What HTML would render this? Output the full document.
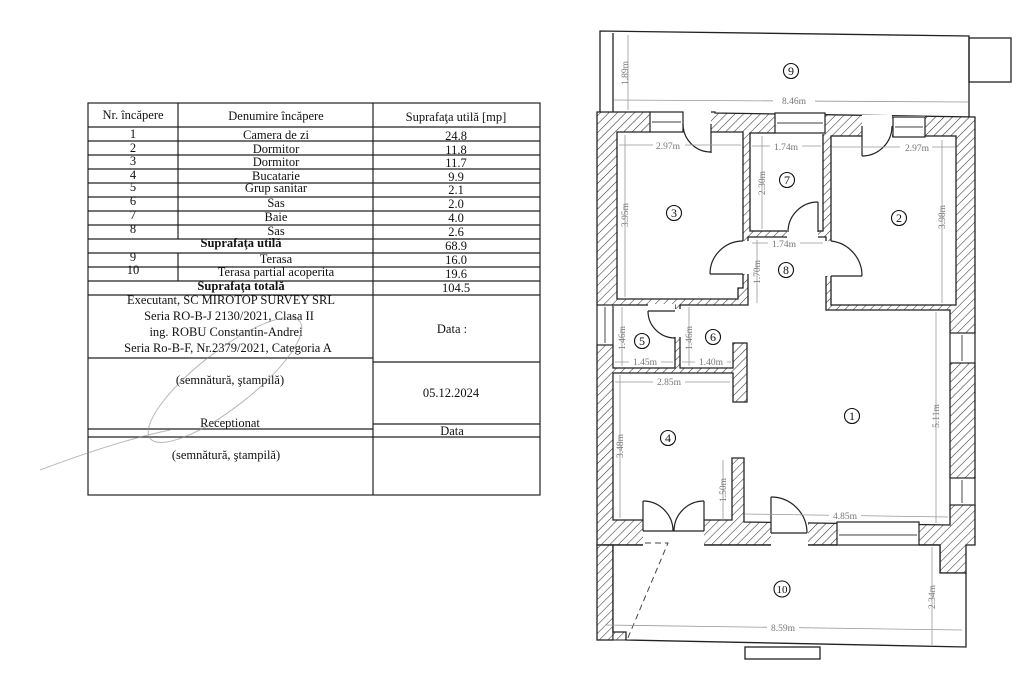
<!DOCTYPE html>
<html><head><meta charset="utf-8"><style>
html,body{margin:0;padding:0;background:#fff;}
svg{display:block;}
text{font-family:"Liberation Serif",serif;}
.t{font-size:12.5px;fill:#111;text-anchor:middle;}
.b{font-weight:bold;}
.d{font-size:9.5px;fill:#777;text-anchor:middle;}
.n{font-size:12px;fill:#111;text-anchor:middle;}
</style></head><body>
<svg width="1024" height="683" viewBox="0 0 1024 683" xmlns="http://www.w3.org/2000/svg">
<defs>
<pattern id="h" width="6" height="6" patternUnits="userSpaceOnUse" patternTransform="rotate(45)">
<rect width="6" height="6" fill="#fff"/><line x1="0" y1="0" x2="0" y2="6" stroke="#333" stroke-width="1.1"/>
</pattern>
</defs>
<rect width="1024" height="683" fill="#fff"/>

<!-- TABLE -->
<g stroke="#222" stroke-width="1.2" fill="none">
<rect x="88" y="103" width="452" height="392"/>
<line x1="178" y1="103" x2="178" y2="239"/>
<line x1="178" y1="253" x2="178" y2="281"/>
<line x1="373" y1="103" x2="373" y2="495"/>
<line x1="88" y1="127" x2="540" y2="127"/>
<line x1="88" y1="141" x2="540" y2="141"/>
<line x1="88" y1="155" x2="540" y2="155"/>
<line x1="88" y1="169" x2="540" y2="169"/>
<line x1="88" y1="183" x2="540" y2="183"/>
<line x1="88" y1="197" x2="540" y2="197"/>
<line x1="88" y1="211" x2="540" y2="211"/>
<line x1="88" y1="225" x2="540" y2="225"/>
<line x1="88" y1="239" x2="540" y2="239"/>
<line x1="88" y1="253" x2="540" y2="253"/>
<line x1="88" y1="267" x2="540" y2="267"/>
<line x1="88" y1="281" x2="540" y2="281"/>
<line x1="88" y1="295" x2="540" y2="295"/>
<line x1="88" y1="358" x2="373" y2="358"/>
<line x1="373" y1="362" x2="540" y2="362"/>
<line x1="88" y1="429" x2="373" y2="429"/>
<line x1="88" y1="437" x2="540" y2="437"/>
<line x1="373" y1="424" x2="540" y2="424"/>
</g>
<text class="t" x="133" y="119">Nr. încăpere</text>
<text class="t" x="276" y="120">Denumire încăpere</text>
<text class="t" x="456" y="121">Suprafaţa utilă [mp]</text>
<g class="t">
<text class="t" x="133" y="138">1</text><text class="t" x="276" y="139">Camera de zi</text><text class="t" x="456" y="140">24.8</text>
<text class="t" x="133" y="152">2</text><text class="t" x="276" y="153">Dormitor</text><text class="t" x="456" y="154">11.8</text>
<text class="t" x="133" y="165">3</text><text class="t" x="276" y="166">Dormitor</text><text class="t" x="456" y="167">11.7</text>
<text class="t" x="133" y="179">4</text><text class="t" x="276" y="180">Bucatarie</text><text class="t" x="456" y="181">9.9</text>
<text class="t" x="133" y="191">5</text><text class="t" x="276" y="192">Grup sanitar</text><text class="t" x="456" y="194">2.1</text>
<text class="t" x="133" y="205">6</text><text class="t" x="276" y="207">Sas</text><text class="t" x="456" y="208">2.0</text>
<text class="t" x="133" y="219">7</text><text class="t" x="276" y="221">Baie</text><text class="t" x="456" y="222">4.0</text>
<text class="t" x="133" y="233">8</text><text class="t" x="276" y="235">Sas</text><text class="t" x="456" y="236">2.6</text>
<text class="t b" x="241" y="247">Suprafaţa utilă</text><text class="t" x="456" y="250">68.9</text>
<text class="t" x="133" y="261">9</text><text class="t" x="276" y="263">Terasa</text><text class="t" x="456" y="264">16.0</text>
<text class="t" x="133" y="274">10</text><text class="t" x="276" y="276">Terasa partial acoperita</text><text class="t" x="456" y="278">19.6</text>
<text class="t b" x="241" y="290">Suprafaţa totală</text><text class="t" x="456" y="292">104.5</text>
</g>
<text class="t" x="231" y="304">Executant, SC MIROTOP SURVEY SRL</text>
<text class="t" x="229" y="320">Seria RO-B-J 2130/2021, Clasa II</text>
<text class="t" x="226" y="336">ing. ROBU Constantin-Andrei</text>
<text class="t" x="228" y="352">Seria Ro-B-F, Nr.2379/2021, Categoria A</text>
<text class="t" x="452" y="333">Data :</text>
<text class="t" x="230" y="384">(semnătură, ştampilă)</text>
<text class="t" x="451" y="397">05.12.2024</text>
<text class="t" x="230" y="427">Receptionat</text>
<text class="t" x="452" y="435">Data</text>
<text class="t" x="226" y="459">(semnătură, ştampilă)</text>
<!-- stamp -->
<g fill="none" stroke="#888" stroke-width="1" opacity="0.6">
<ellipse cx="225" cy="380" rx="95" ry="28" transform="rotate(-38 225 380)"/>
<path d="M40 470 Q120 440 170 430"/>
</g>

<!-- TERRACE 9 -->
<g fill="none" stroke="#222" stroke-width="1.3">
<path d="M600 112 L600 31 L969 36 L969 118"/>
<line x1="613" y1="33" x2="613" y2="112"/>
<rect x="969" y="38" width="42" height="44"/>
</g>

<!-- HOUSE WALLS -->
<path d="M597 112 L715 112 L715 113 L975 117 L975 545 L966 545 L966 573 L940 573 L940 545 L597 545 Z" fill="url(#h)" stroke="#222" stroke-width="1.3"/>
<!-- left wall continuing along terrace 10 -->
<rect x="597" y="545" width="16" height="95" fill="url(#h)" stroke="#222" stroke-width="1.3"/>
<rect x="613" y="632" width="13" height="8" fill="url(#h)" stroke="#222" stroke-width="1"/>

<g fill="#fff" stroke="#222" stroke-width="1.3">
<!-- room 3 -->
<path d="M617 132 L743 132 L743 288 L738 288 L738 299 L617 299 Z"/>
<!-- room 7 -->
<rect x="750" y="133" width="73" height="98"/>
<!-- room 2 -->
<rect x="831" y="136" width="125" height="169"/>
<!-- room 5 -->
<rect x="613" y="305" width="62" height="63"/>
<!-- rooms 1,4,6,8 -->
<path d="M613 373 L733 373 L733 402 L747 402 L747 343 L733 343 L733 368 L680 368 L680 305 L748 305 L748 237 L826 237 L826 310 L950 310 L950 525 L744 522 L744 458 L732 458 L732 520 L613 520 Z"/>
<!-- terrace 10 -->
<path d="M613 545 L940 545 L940 573 L966 573 L966 647 L626 640 L626 632 L613 632 Z"/>
<rect x="745" y="647" width="75" height="12"/>
</g>
<!-- fix internal border of terrace near house bottom -->
<line x1="603" y1="545" x2="940" y2="545" stroke="#222" stroke-width="1.3"/>

<!-- openings (doors/windows) white cut -->
<g fill="#fff" stroke="none">
<rect x="683" y="111" width="28" height="22"/>
<rect x="862" y="115" width="30" height="22"/>
<rect x="787" y="230" width="31" height="8"/>
<rect x="742" y="241" width="8" height="33"/>
<rect x="825" y="241" width="7" height="35"/>
<rect x="648" y="304" width="27" height="6"/>
<rect x="674" y="309" width="7" height="28"/>
<rect x="643" y="519" width="61" height="27"/>
<rect x="771" y="521" width="37" height="25"/>
<rect x="650" y="111" width="33" height="22"/>
<rect x="775" y="112" width="50" height="22"/>
<rect x="893" y="116" width="32" height="21"/>
<rect x="596" y="305" width="18" height="40"/>
<rect x="949" y="333" width="27" height="30"/>
<rect x="949" y="478" width="27" height="27"/>
<rect x="837" y="521" width="82" height="25"/>
</g>
<g fill="none" stroke="#222" stroke-width="1.2">
<!-- windows -->
<rect x="650" y="112" width="33" height="20"/><line x1="652" y1="122" x2="681" y2="122" stroke="#666"/>
<rect x="775" y="113" width="50" height="20"/><line x1="777" y1="123" x2="823" y2="123" stroke="#666"/>
<rect x="893" y="117" width="32" height="20"/><line x1="895" y1="127" x2="923" y2="127" stroke="#666"/>
<rect x="597" y="305" width="16" height="40"/><line x1="605" y1="307" x2="605" y2="343" stroke="#666"/>
<rect x="950" y="333" width="25" height="30"/><line x1="962" y1="335" x2="962" y2="361" stroke="#666"/>
<rect x="950" y="478" width="25" height="27"/><line x1="962" y1="480" x2="962" y2="503" stroke="#666"/>
<rect x="837" y="522" width="82" height="23"/><line x1="839" y1="535" x2="917" y2="535" stroke="#666"/>
<!-- doors -->
<line x1="711" y1="124" x2="711" y2="153"/><path d="M683 124 A28 28 0 0 0 711 152"/>
<line x1="862" y1="126" x2="862" y2="156"/><path d="M892 126 A30 30 0 0 1 862 156"/>
<line x1="818" y1="202" x2="818" y2="232"/><path d="M788 232 A30 30 0 0 1 818 202"/>
<line x1="710" y1="274" x2="743" y2="274"/><path d="M743 241 A33 33 0 0 0 710 274"/>
<line x1="831" y1="276" x2="862" y2="276"/><path d="M831 241 A35 35 0 0 1 862 276"/>
<line x1="648" y1="311" x2="675" y2="311"/><path d="M648 311 A27 27 0 0 0 675 338"/>
<line x1="643" y1="501" x2="643" y2="531"/><path d="M643 501 A30 30 0 0 1 673 531"/>
<line x1="704" y1="501" x2="704" y2="531"/><path d="M704 501 A30 30 0 0 0 674 531"/>
<line x1="643" y1="531" x2="704" y2="531"/>
<line x1="771" y1="497" x2="771" y2="533"/><path d="M771 497 A36 36 0 0 1 807 533"/>
<line x1="771" y1="533" x2="807" y2="533"/>
</g>
<path d="M645 543 L668 543 L627 640" fill="none" stroke="#444" stroke-width="1" stroke-dasharray="6,4"/>

<!-- dimension lines -->
<g stroke="#999" stroke-width="0.8" fill="none">
<line x1="628" y1="35" x2="628" y2="110"/>
<line x1="614" y1="100" x2="968" y2="102"/>
<line x1="619" y1="145" x2="741" y2="145"/>
<line x1="832" y1="147" x2="955" y2="147"/>
<line x1="752" y1="146" x2="821" y2="146"/>
<line x1="752" y1="243" x2="823" y2="243"/>
<line x1="762" y1="136" x2="762" y2="229"/>
<line x1="625" y1="135" x2="625" y2="297"/>
<line x1="942" y1="140" x2="942" y2="303"/>
<line x1="757" y1="240" x2="757" y2="303"/>
<line x1="622" y1="307" x2="622" y2="366"/>
<line x1="689" y1="307" x2="689" y2="366"/>
<line x1="615" y1="362" x2="673" y2="362"/>
<line x1="682" y1="362" x2="731" y2="362"/>
<line x1="615" y1="382" x2="730" y2="382"/>
<line x1="620" y1="375" x2="620" y2="518"/>
<line x1="936" y1="312" x2="936" y2="523"/>
<line x1="723" y1="460" x2="723" y2="520"/>
<line x1="745" y1="514" x2="948" y2="517"/>
<line x1="932" y1="547" x2="932" y2="645"/>
<line x1="605" y1="625" x2="962" y2="630"/>
</g>
<g class="d">
<text class="d" transform="translate(628 73) rotate(-90)">1.89m</text>
<rect x="773" y="95" width="42" height="11" fill="#fff"/><text class="d" x="794" y="104">8.46m</text>
<rect x="653" y="140" width="32" height="10" fill="#fff"/><text class="d" x="668" y="149">2.97m</text>
<rect x="900" y="142" width="32" height="10" fill="#fff"/><text class="d" x="917" y="151">2.97m</text>
<rect x="770" y="141" width="32" height="10" fill="#fff"/><text class="d" x="786" y="150">1.74m</text>
<rect x="768" y="238" width="32" height="10" fill="#fff"/><text class="d" x="784" y="247">1.74m</text>
<text class="d" transform="translate(765 183) rotate(-90)">2.30m</text>
<text class="d" transform="translate(628 215) rotate(-90)">3.95m</text>
<text class="d" transform="translate(945 217) rotate(-90)">3.98m</text>
<text class="d" transform="translate(760 272) rotate(-90)">1.70m</text>
<text class="d" transform="translate(625 338) rotate(-90)">1.46m</text>
<text class="d" transform="translate(692 338) rotate(-90)">1.46m</text>
<rect x="629" y="357" width="32" height="10" fill="#fff"/><text class="d" x="645" y="365">1.45m</text>
<rect x="695" y="357" width="32" height="10" fill="#fff"/><text class="d" x="711" y="365">1.40m</text>
<rect x="653" y="377" width="32" height="10" fill="#fff"/><text class="d" x="669" y="385">2.85m</text>
<text class="d" transform="translate(623 446) rotate(-90)">3.48m</text>
<text class="d" transform="translate(939 416) rotate(-90)">5.11m</text>
<text class="d" transform="translate(726 490) rotate(-90)">1.50m</text>
<rect x="829" y="511" width="32" height="10" fill="#fff"/><text class="d" x="845" y="519">4.85m</text>
<text class="d" transform="translate(935 597) rotate(-90)">2.34m</text>
<rect x="767" y="623" width="32" height="10" fill="#fff"/><text class="d" x="783" y="631">8.59m</text>
</g>

<!-- room numbers -->
<g fill="none" stroke="#111" stroke-width="1.1">
<circle cx="791" cy="71" r="7.5"/><circle cx="674" cy="213" r="7.5"/><circle cx="787" cy="180" r="7.5"/>
<circle cx="899" cy="218" r="7.5"/><circle cx="786" cy="270" r="7.5"/><circle cx="642" cy="341" r="7.5"/>
<circle cx="713" cy="337" r="7.5"/><circle cx="852" cy="416" r="7.5"/><circle cx="668" cy="438" r="7.5"/>
<circle cx="782" cy="589" r="8"/>
</g>
<g class="n">
<text class="n" x="791" y="75">9</text><text class="n" x="674" y="217">3</text><text class="n" x="787" y="184">7</text>
<text class="n" x="899" y="222">2</text><text class="n" x="786" y="274">8</text><text class="n" x="642" y="345">5</text>
<text class="n" x="713" y="341">6</text><text class="n" x="852" y="420">1</text><text class="n" x="668" y="442">4</text>
<text class="n" x="782" y="593" style="font-size:11px">10</text>
</g>
</svg>
</body></html>
